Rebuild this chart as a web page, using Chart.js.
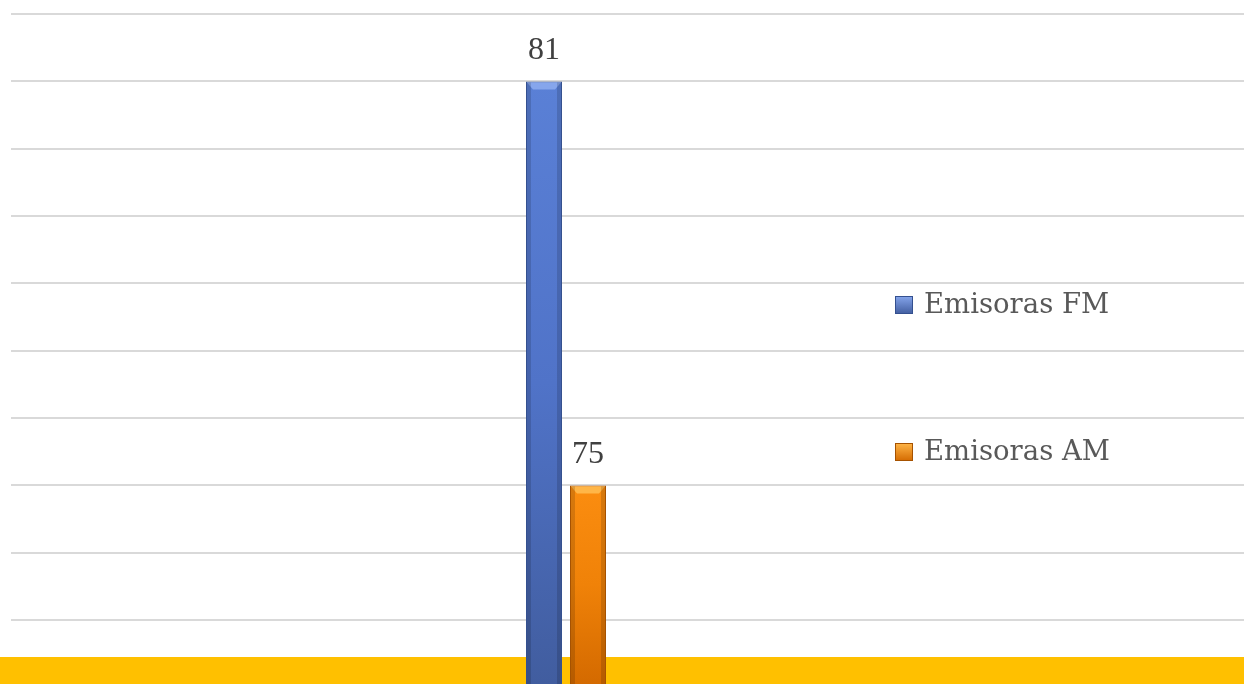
<!DOCTYPE html>
<html>
<head>
<meta charset="utf-8">
<script src="https://cdn.jsdelivr.net/npm/chart.js@4/dist/chart.umd.min.js"></script>
<style>
  html, body { margin: 0; padding: 0; background: #ffffff; }
  #wrap { width: 1244px; height: 684px; }
</style>
</head>
<body>
<div id="wrap"><canvas id="radioChart"></canvas></div>
<script>
var categories = ['Emisoras'];
var seriesNames = ['Emisoras FM', 'Emisoras AM'];
var fmValues = [81];
var amValues = [75];
var yTicks = [73, 74, 75, 76, 77, 78, 79, 80, 81, 82];
var yMin = 72.05;
var yMax = 82.21;

var palette = {
	fm: { bevel: '#86a6ec', light: '#5a80d6', mid: '#5073c8', dark: '#415d9f', edge: '#34508f' },
	am: { bevel: '#ffb648', light: '#fb8d10', mid: '#f08208', dark: '#d46a00', edge: '#a65200' }
};

function barFill(key){
	return function(ctx){
		var chart = ctx.chart;
		var c = palette[key];
		if(!chart.chartArea || !chart.scales.y){
			return c.mid;
		}
		var top = chart.scales.y.getPixelForValue(ctx.raw);
		var g = chart.ctx.createLinearGradient(0, top, 0, chart.chartArea.bottom);
		g.addColorStop(0, c.light);
		g.addColorStop(0.5, c.mid);
		g.addColorStop(1, c.dark);
		return g;
	};
}

// yellow floor under the bars
var floorPlugin = {
	id: 'floor',
	beforeDatasetsDraw: function(chart){
		var ctx = chart.ctx;
		ctx.save();
		ctx.fillStyle = '#ffc000';
		ctx.fillRect(0, chart.height - 27, chart.width, 27);
		ctx.restore();
	}
};

// bevel on top of bars + value labels
var barDecorPlugin = {
	id: 'barDecor',
	afterDatasetsDraw: function(chart){
		var ctx = chart.ctx;
		ctx.save();
		chart.data.datasets.forEach(function(ds, i){
			var meta = chart.getDatasetMeta(i);
			var c = palette[ds.key];
			meta.data.forEach(function(bar, j){
				var half = bar.width / 2;
				var left = bar.x - half, right = bar.x + half;
				ctx.fillStyle = c.bevel;
				ctx.beginPath();
				ctx.moveTo(left + 1, bar.y + 1);
				ctx.lineTo(right - 1, bar.y + 1);
				ctx.lineTo(right - 7, bar.y + 8);
				ctx.lineTo(left + 7, bar.y + 8);
				ctx.closePath();
				ctx.fill();
				ctx.fillStyle = 'rgba(0,0,0,0.14)';
				ctx.fillRect(left + 1, bar.y + 1, 4, bar.base - bar.y - 1);
				ctx.fillRect(right - 5, bar.y + 1, 4, bar.base - bar.y - 1);

				ctx.fillStyle = '#404040';
				ctx.font = '32px "Liberation Serif"';
				ctx.textAlign = 'center';
				ctx.textBaseline = 'middle';
				ctx.fillText(String(ds.data[j]), bar.x, bar.y - 31);
			});
		});
		ctx.restore();
	}
};

// legend on the right, over the gridlines
var sideLegendPlugin = {
	id: 'sideLegend',
	afterDraw: function(chart){
		var ctx = chart.ctx;
		var rowsY = [305, 452];
		ctx.save();
		chart.data.datasets.forEach(function(ds, i){
			var c = palette[ds.key];
			var y = rowsY[i];
			var g = ctx.createLinearGradient(0, y - 9, 0, y + 9);
			g.addColorStop(0, c.bevel);
			g.addColorStop(1, c.dark);
			ctx.fillStyle = g;
			ctx.fillRect(895, y - 9, 18, 18);
			ctx.strokeStyle = c.edge;
			ctx.lineWidth = 1;
			ctx.strokeRect(895.5, y - 8.5, 17, 17);
			ctx.fillStyle = '#595959';
			ctx.font = '27.5px "DejaVu Serif"';
			ctx.textAlign = 'left';
			ctx.textBaseline = 'middle';
			ctx.fillText(ds.label, 924, y + 1);
		});
		ctx.restore();
	}
};

var chart = new Chart(document.getElementById('radioChart'), {
	type: 'bar',
	data: {
		labels: categories,
		datasets: [
			{ label: seriesNames[0], key: 'fm', data: fmValues, backgroundColor: barFill('fm'),
			  borderColor: palette.fm.edge, borderWidth: 1, borderSkipped: 'bottom' },
			{ label: seriesNames[1], key: 'am', data: amValues, backgroundColor: barFill('am'),
			  borderColor: palette.am.edge, borderWidth: 1, borderSkipped: 'bottom' }
		]
	},
	options: {
		responsive: true,
		maintainAspectRatio: false,
		animation: false,
		layout: { padding: { left: 11, right: 0, top: 0, bottom: 0 } },
		datasets: { bar: { categoryPercentage: 0.0793, barPercentage: 0.818 } },
		plugins: { legend: { display: false }, tooltip: { enabled: false } },
		scales: {
			x: { display: false },
			y: {
				position: 'right',
				min: yMin,
				max: yMax,
				afterBuildTicks: function(scale){
					scale.ticks = yTicks.map(function(v){ return { value: v }; });
				},
				afterFit: function(scale){
					scale.width = 123;
				},
				ticks: { display: false },
				grid: { color: '#d9d9d9', lineWidth: 2, drawTicks: true, tickLength: 123 },
				border: { display: false }
			}
		}
	},
	plugins: [floorPlugin, barDecorPlugin, sideLegendPlugin]
});
</script>
</body>
</html>
